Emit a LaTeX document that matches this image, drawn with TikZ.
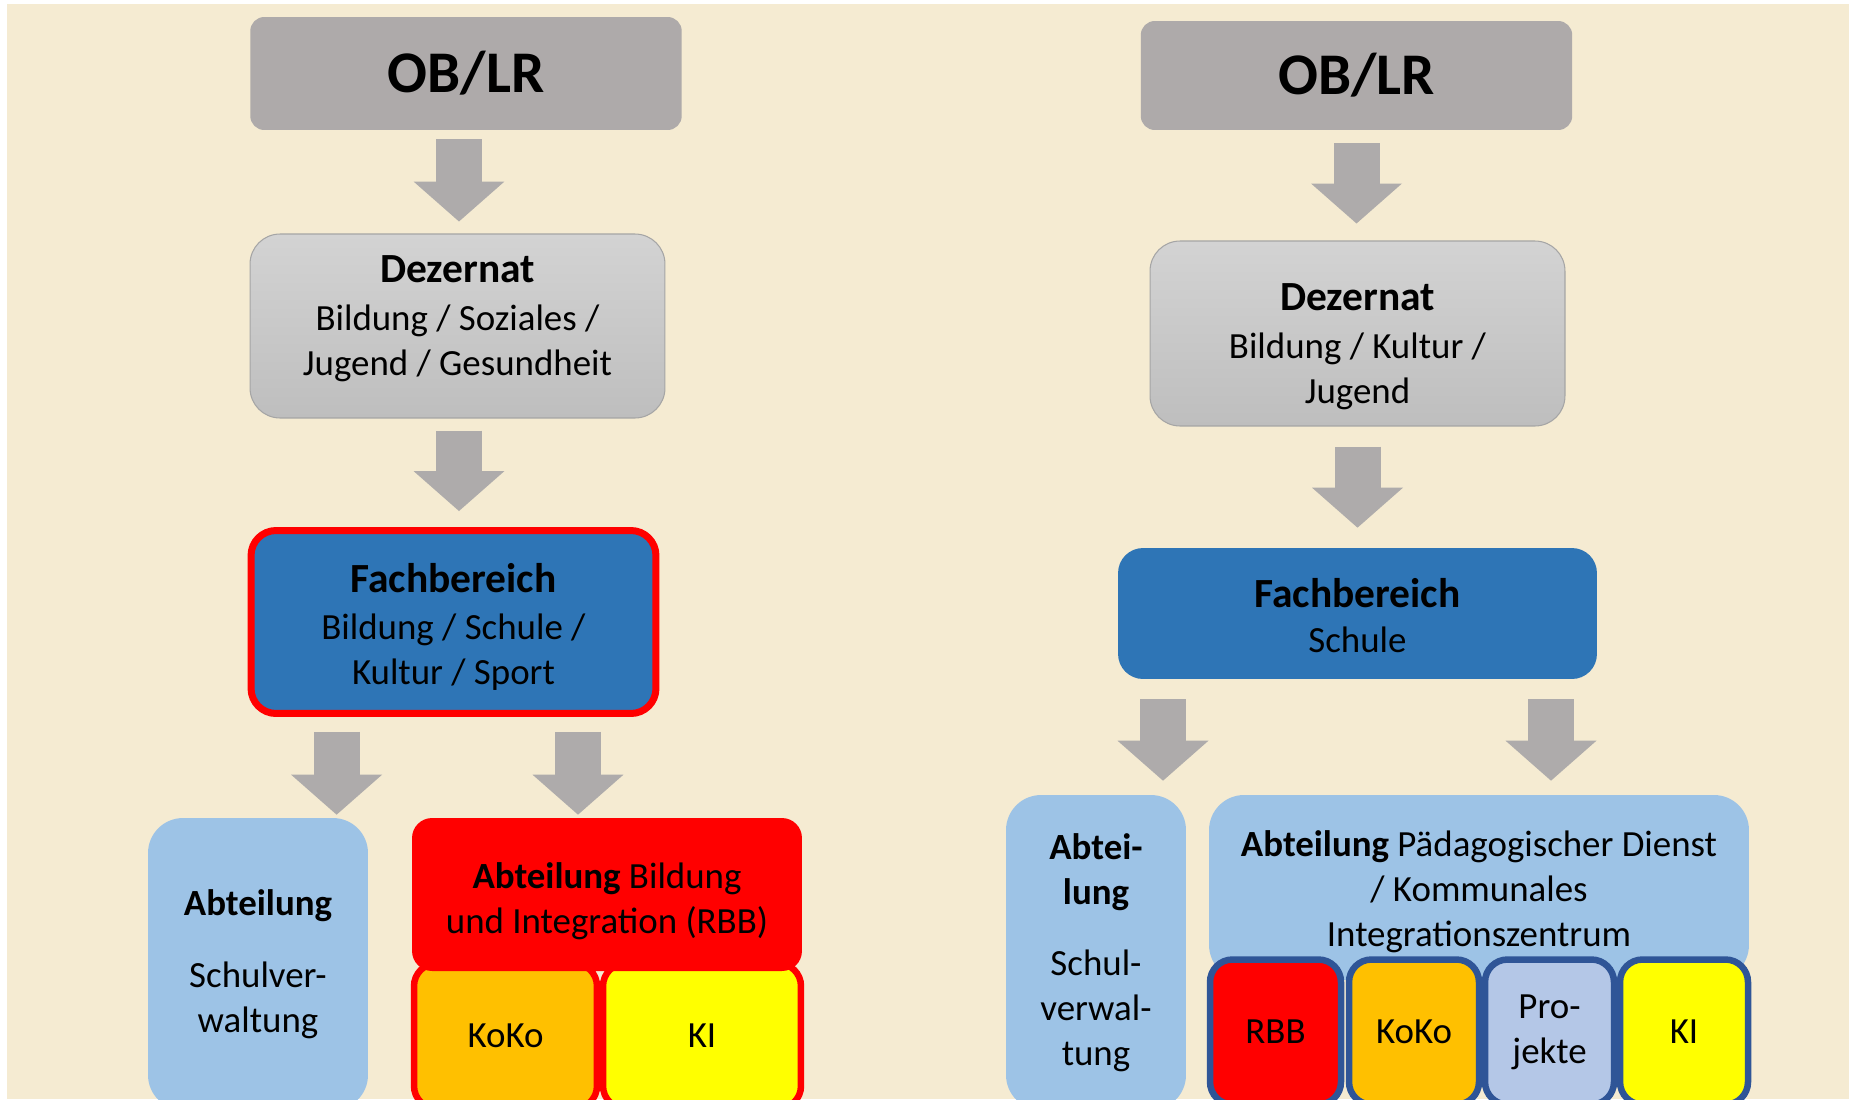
\documentclass[tikz,border=0pt]{standalone}
\usepackage{fontspec}
\setmainfont{Carlito}
\usetikzlibrary{arrows.meta,calc}

\definecolor{bgcream}{HTML}{F5EBD2}
\definecolor{obgray}{HTML}{AEAAAA}
\definecolor{dzlight}{HTML}{D3D3D3}
\definecolor{dzdark}{HTML}{BEBEBE}
\definecolor{dzline}{HTML}{A5A5A5}
\definecolor{fbblue}{HTML}{2E75B6}
\definecolor{abtblue}{HTML}{9DC3E6}
\definecolor{arrowgray}{HTML}{AEABAB}
\definecolor{kokoorange}{HTML}{FFC000}
\definecolor{kiyellow}{HTML}{FFFF00}
\definecolor{projblue}{HTML}{B4C7E7}
\definecolor{unitblue}{HTML}{2F5597}

\newcommand{\hdfont}{\fontsize{23.6}{28}\selectfont\bfseries}

\begin{document}
\begin{tikzpicture}[x=0.02cm,y=-0.02cm,
  every node/.style={inner sep=0pt,align=center,font=\fontsize{21}{25.6}\selectfont},
  obbox/.style={fill=obgray,rounded corners=0.28cm,minimum width=8.63cm,font=\fontsize{33.6}{40}\selectfont\bfseries},
  dzbox/.style={top color=dzlight,bottom color=dzdark,draw=dzline,line width=0.6pt,rounded corners=0.6cm,minimum width=8.3cm},
  fbbox/.style={fill=fbblue,rounded corners=0.5cm},
  abtbox/.style={fill=abtblue,rounded corners=0.7cm},
  unitbox/.style={rounded corners=0.45cm,line width=0.13cm,minimum height=2.9cm},
  bigarrow/.style={draw=arrowgray,line width=0.92cm,-{Triangle[width=1.82cm,length=0.8cm,line width=0pt]}}]
\useasboundingbox (0,0) rectangle (1852,1099);
\clip (0,0) rectangle (1852,1099);
\fill[white] (0,0) rectangle (1852,1099);
\fill[bgcream] (7,4) rectangle (1849,1099);

\node[obbox,minimum height=2.26cm] (ob1) at (466,73.5) {OB/LR};
\node[dzbox,minimum height=3.68cm] (dz1) at (457.5,326) {};
\node (dz1text) at ($(dz1)+(0,-7)$) {{\hdfont Dezernat}\\[0.06cm]Bildung / Soziales /\\Jugend / Gesundheit};
\node[fbbox,draw=red,line width=0.14cm,minimum width=8.1cm,minimum height=3.66cm] (fb1) at (453.5,622) {};
\node (fb1text) at ($(fb1)+(0,5)$) {{\hdfont Fachbereich}\\[0.04cm]Bildung / Schule /\\Kultur / Sport};
\node[abtbox,minimum width=4.4cm,minimum height=5.84cm] (sv1) at (258,964) {\textbf{Abteilung}\\[0.54cm]Schulver-\\waltung};
\node[unitbox,draw=red,fill=kokoorange,minimum width=3.66cm] (koko1) at (505.5,1036) {KoKo};
\node[unitbox,draw=red,fill=kiyellow,minimum width=3.96cm] (ki1) at (702,1036) {KI};
\node[fill=red,rounded corners=0.4cm,minimum width=7.8cm,minimum height=3.06cm] (rbb1) at (607,894.5) {};
\node (rbb1text) at ($(rbb1)+(0,7)$) {\textbf{Abteilung} Bildung\\und Integration (RBB)};

\draw[bigarrow] ($(ob1.south -| dz1.north)+(1.5,9)$) -- ($(dz1.north)+(1.5,-12)$);
\draw[bigarrow] ($(dz1.south)+(1.5,12)$) -- ($(fb1.north -| dz1.south)+(1.5,-16)$);
\draw[bigarrow] ($(fb1.south -| sv1.north)+(78.6,15)$) -- ($(sv1.north)+(78.6,-3)$);
\draw[bigarrow] ($(fb1.south -| rbb1.north)+(-29,15)$) -- ($(rbb1.north)+(-29,-3)$);

\node[obbox,minimum height=2.18cm] (ob2) at (1356.5,75.5) {OB/LR};
\node[dzbox,minimum height=3.7cm] (dz2) at (1357.5,333.5) {};
\node (dz2text) at ($(dz2)+(0,13)$) {{\hdfont Dezernat}\\[0.06cm]Bildung / Kultur /\\Jugend};
\node[fbbox,minimum width=9.58cm,minimum height=2.62cm] (fb2) at (1357.5,613.5) {};
\node (fb2text) at ($(fb2)+(0,2)$) {{\hdfont Fachbereich}\\Schule};
\node[abtbox,minimum width=3.6cm,minimum height=6.3cm] (sv2) at (1096,952.5) {\textbf{Abtei-}\\\textbf{lung}\\[0.52cm]Schul-\\verwal-\\tung};
\node[abtbox,minimum width=10.8cm,minimum height=3.7cm] (pd2) at (1479,887.5) {};
\node (pd2text) at ($(pd2)+(0,4)$) {\textbf{Abteilung} Pädagogischer Dienst\\/ Kommunales\\Integrationszentrum};
\node[unitbox,draw=unitblue,fill=red,minimum width=2.62cm] (rbb2) at (1275.5,1032) {RBB};
\node[unitbox,draw=unitblue,fill=kokoorange,minimum width=2.6cm] (koko2) at (1414,1032) {KoKo};
\node[unitbox,draw=unitblue,fill=projblue,minimum width=2.58cm] (proj2) at (1549.5,1032) {Pro-\\jekte};
\node[unitbox,draw=unitblue,fill=kiyellow,minimum width=2.56cm] (ki2) at (1684,1032) {KI};

\draw[bigarrow] ($(ob2.south)+(0,13)$) -- ($(dz2.north -| ob2.south)+(0,-17)$);
\draw[bigarrow] ($(dz2.south)+(0,20)$) -- ($(fb2.north)+(0,-20)$);
\draw[bigarrow] ($(fb2.south -| sv2.north)+(67,20)$) -- ($(sv2.north)+(67,-14)$);
\draw[bigarrow] ($(fb2.south -| pd2.north)+(72,20)$) -- ($(pd2.north)+(72,-14)$);
\end{tikzpicture}
\end{document}
